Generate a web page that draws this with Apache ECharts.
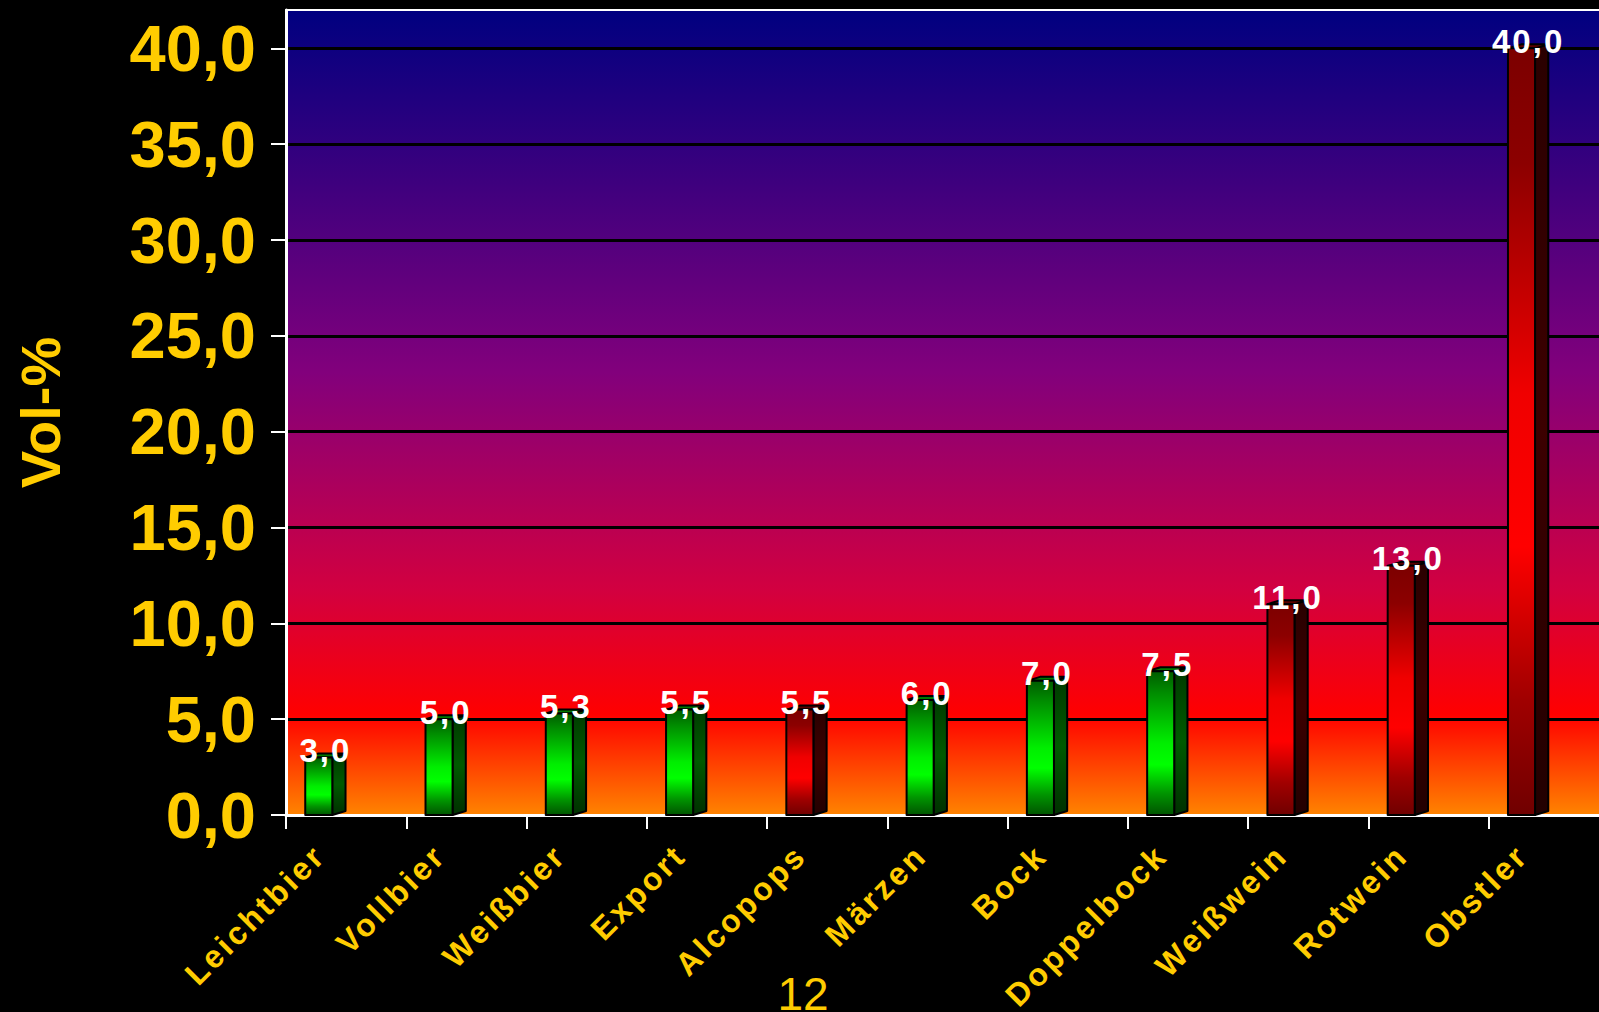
<!DOCTYPE html>
<html>
<head>
<meta charset="utf-8">
<style>
  html, body { margin: 0; padding: 0; background: #000; }
  #chart { width: 1599px; height: 1012px; }
  /* spaced-out lettering for the drink names and the value tags */
  #chart svg text[style*="32px"] { letter-spacing: 3px; }
  #chart svg text[style*="33px"] { letter-spacing: 2px; }
</style>
<script src="https://cdn.jsdelivr.net/npm/echarts@6/dist/echarts.min.js"></script>
</head>
<body>
<div id="chart"></div>
<script>
// Alcohol content by drink (Vol-%)
const categories = ['Leichtbier', 'Vollbier', 'Weißbier', 'Export', 'Alcopops', 'Märzen', 'Bock', 'Doppelbock', 'Weißwein', 'Rotwein', 'Obstler'];
const volPercent = [3.0, 5.0, 5.3, 5.5, 5.5, 6.0, 7.0, 7.5, 11.0, 13.0, 40.0];
const drinkType = ['Bier', 'Bier', 'Bier', 'Bier', 'Alcopop', 'Bier', 'Bier', 'Bier', 'Wein', 'Wein', 'Spirituose'];
const yTicks = [0, 5, 10, 15, 20, 25, 30, 35, 40];
const yTitle = 'Vol-%';
const pageNumber = '12';

const FONT = '"Liberation Sans", Arial, Helvetica, sans-serif';
const YELLOW = '#ffcc00';
const fmt = v => v.toFixed(1).replace('.', ',');
const grad = stops => new echarts.graphic.LinearGradient(0, 0, 0, 1,
  stops.map(s => ({ offset: s[0], color: s[1] })));

// beer is drawn green, everything else red
const palettes = {
  green: {
    front: [[0, '#005c00'], [0.15, '#008c00'], [0.5, '#00ee00'], [0.65, '#00ff00'], [0.85, '#009400'], [1, '#005400']],
    side: [[0, '#003a00'], [0.5, '#005a00'], [1, '#003000']],
    top: '#007a00'
  },
  red: {
    front: [[0, '#7c0000'], [0.15, '#8c0000'], [0.45, '#f00000'], [0.65, '#ff0000'], [0.85, '#a00000'], [1, '#700000']],
    side: [[0, '#2a0000'], [0.5, '#3c0000'], [1, '#220000']],
    top: '#5a0000'
  }
};
const paletteFor = t => (t === 'Bier' ? palettes.green : palettes.red);

const chart = echarts.init(document.getElementById('chart'), null, { renderer: 'svg' });

const option = {
  backgroundColor: '#000',
  animation: false,
  grid: {
    left: 286, top: 10, right: -10, bottom: 197,
    containLabel: false,
    outerBoundsMode: 'none',
    show: true,
    borderWidth: 0,
    backgroundColor: grad([[0, '#000080'], [0.45, '#82007c'], [0.72, '#d20040'], [0.875, '#ff0000'], [1, '#ff8400']])
  },
  xAxis: [{
    type: 'category',
    data: categories,
    boundaryGap: true,
    axisLine: { lineStyle: { color: '#fff', width: 3 } },
    axisTick: { show: true, length: 14, lineStyle: { color: '#fff', width: 2 } },
    // category names are set slanted by the label series below
    axisLabel: { show: false },
    splitLine: { show: false }
  }, {
    type: 'category',
    position: 'top',
    data: categories,
    z: 5,
    axisLine: { lineStyle: { color: '#fff', width: 2 } },
    axisTick: { show: false },
    axisLabel: { show: false },
    splitLine: { show: false }
  }],
  yAxis: {
    type: 'value',
    min: 0, max: 42, interval: 5,
    name: yTitle,
    nameLocation: 'middle',
    nameGap: 218,
    nameRotate: 90,
    nameTextStyle: { color: YELLOW, fontFamily: FONT, fontWeight: 'bold', fontSize: 56 },
    axisLine: { show: true, lineStyle: { color: '#fff', width: 3 } },
    axisTick: { show: true, length: 15, customValues: yTicks, lineStyle: { color: '#fff', width: 2 } },
    axisLabel: {
      customValues: yTicks, margin: 30,
      color: YELLOW, fontFamily: FONT, fontWeight: 'bold', fontSize: 65,
      formatter: v => fmt(v)
    },
    splitLine: { show: true, lineStyle: { color: '#000', width: 3 } }
  },
  graphic: [{
    type: 'text',
    x: 803, y: 994,
    style: { text: pageNumber, font: '46px ' + FONT, fill: YELLOW, align: 'center', verticalAlign: 'middle' }
  }],
  series: [{
    type: 'custom',
    name: 'Vol-%',
    xAxisIndex: 0,
    yAxisIndex: 0,
    clip: false,
    data: volPercent.map((v, i) => [i, v]),
    encode: { x: 0, y: 1 },
    renderItem: (params, api) => {
      const i = api.value(0);
      const v = api.value(1);
      const top = api.coord([i, v]);
      const base = api.coord([i, 0]);
      const band = api.size([1, 0])[0];
      const fw = band * 0.225;   // front face width
      const dx = band * 0.11;    // depth offset, horizontal
      const dy = 4;              // depth offset, vertical
      const x0 = top[0] - band * 0.34;
      const yt = top[1];
      const yb = base[1];
      const pal = paletteFor(drinkType[i]);
      const edge = { stroke: '#000', lineWidth: 2, lineJoin: 'round' };
      return {
        type: 'group',
        children: [{
          type: 'polygon',
          shape: { points: [[x0 + fw, yt], [x0 + fw + dx, yt - dy], [x0 + fw + dx, yb - dy], [x0 + fw, yb]] },
          style: Object.assign({ fill: grad(pal.side) }, edge)
        }, {
          type: 'polygon',
          shape: { points: [[x0, yt], [x0 + dx, yt - dy], [x0 + fw + dx, yt - dy], [x0 + fw, yt]] },
          style: Object.assign({ fill: pal.top }, edge)
        }, {
          type: 'rect',
          shape: { x: x0, y: yt, width: fw, height: yb - yt },
          style: Object.assign({ fill: grad(pal.front) }, edge)
        }, {
          type: 'text',
          x: x0 + (fw + dx) / 2,
          y: yt - 7,
          style: {
            text: fmt(v), fill: '#fff',
            font: 'bold 33px ' + FONT,
            align: 'center', verticalAlign: 'middle'
          }
        }]
      };
    }
  }, {
    // slanted category names under the axis, anchored left of each band centre
    type: 'custom',
    name: 'Getränk',
    xAxisIndex: 0,
    yAxisIndex: 0,
    clip: false,
    silent: true,
    data: categories.map((c, i) => [i, 0]),
    encode: { x: 0, y: 1 },
    renderItem: (params, api) => {
      const p = api.coord([api.value(0), 0]);
      const band = api.size([1, 0])[0];
      return {
        type: 'text',
        x: p[0] - band * 0.22,
        y: p[1] + 35,
        rotation: Math.PI / 4,
        style: {
          text: categories[params.dataIndex],
          fill: YELLOW,
          font: 'bold 32px ' + FONT,
          align: 'right',
          verticalAlign: 'middle'
        }
      };
    }
  }]
};

chart.setOption(option);
</script>
</body>
</html>
